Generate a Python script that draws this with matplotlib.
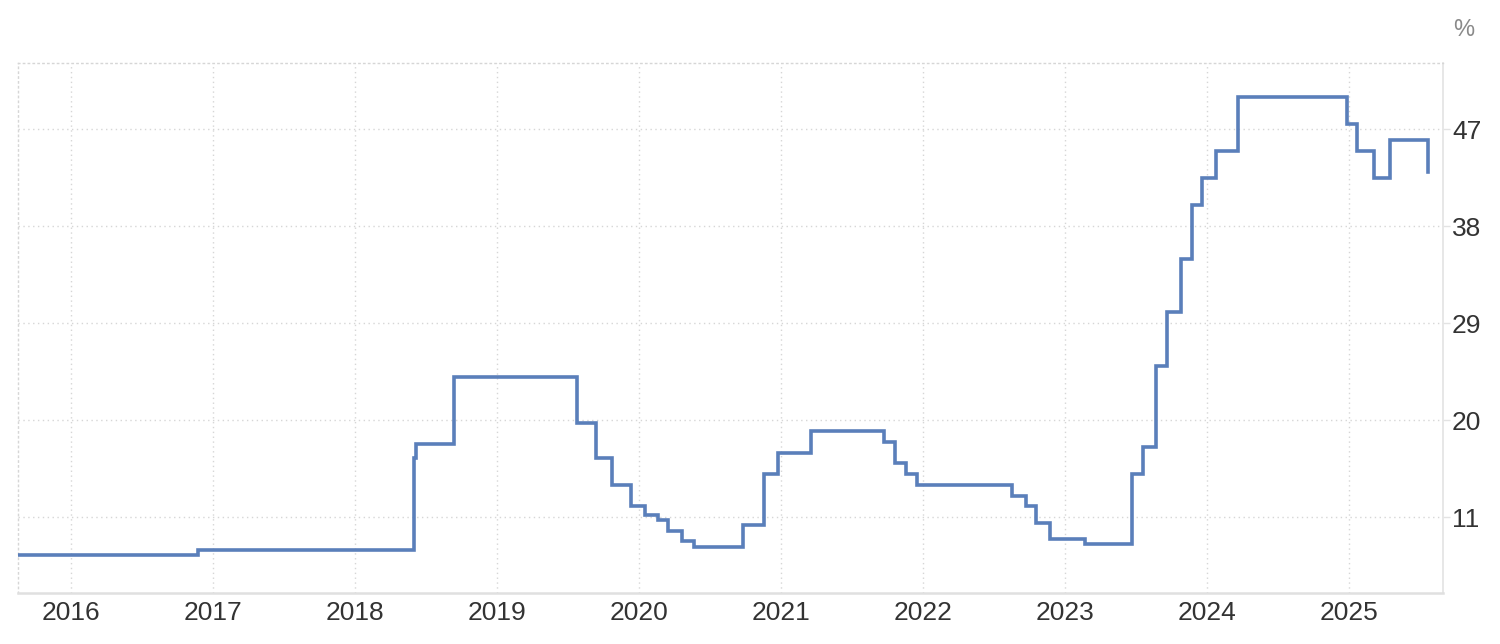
import numpy as np
import pandas as pd
import matplotlib
matplotlib.use("Agg")
import matplotlib.pyplot as plt
import matplotlib.dates as mdates

plt.rcParams['font.family'] = ['Liberation Sans', 'DejaVu Sans']

# policy rate decisions (date the new rate took effect, rate in %)
dates = ["2015-08-18", "2016-11-24", "2018-06-01", "2018-06-07", "2018-09-13",
         "2019-07-25", "2019-09-12", "2019-10-24", "2019-12-12", "2020-01-16",
         "2020-02-19", "2020-03-17", "2020-04-22", "2020-05-21", "2020-09-24",
         "2020-11-19", "2020-12-24", "2021-03-18", "2021-09-23", "2021-10-21",
         "2021-11-18", "2021-12-16", "2022-08-18", "2022-09-22", "2022-10-20",
         "2022-11-24", "2023-02-23", "2023-06-22", "2023-07-20", "2023-08-24",
         "2023-09-21", "2023-10-26", "2023-11-23", "2023-12-21", "2024-01-25",
         "2024-03-21", "2024-12-26", "2025-01-23", "2025-03-06", "2025-04-17",
         "2025-07-24"]
rates = [7.5, 8.0, 16.5, 17.75, 24, 19.75, 16.5, 14, 12, 11.25,
         10.75, 9.75, 8.75, 8.25, 10.25, 15, 17, 19, 18, 16,
         15, 14, 13, 12, 10.5, 9, 8.5, 15, 17.5, 25,
         30, 35, 40, 42.5, 45, 50, 47.5, 45, 42.5, 46,
         43]

y_ticks = [11, 20, 29, 38, 47]
years = list(range(2016, 2026))

x = pd.to_datetime(dates)

fig = plt.figure(figsize=(15, 6.44), dpi=100)
ax = fig.add_axes([0.012, 0.0797, 0.950, 0.822])

ax.plot(x, rates, drawstyle='steps-post', color='#5a7fba', lw=2.6,
        solid_joinstyle='miter', zorder=3)

ax.set_xlim(pd.Timestamp("2015-08-18"), pd.Timestamp("2025-08-31"))
ax.set_ylim(4.0, 53.12)

ax.set_xticks([pd.Timestamp(f"{y}-01-01") for y in years])
ax.xaxis.set_major_formatter(mdates.DateFormatter('%Y'))
ax.set_yticks(y_ticks)

ax.yaxis.tick_right()
ax.tick_params(axis='y', length=5, width=1, color='#e3e3e3', pad=1.5,
               labelsize=19, labelcolor='#333333')
ax.tick_params(axis='x', length=0, pad=6, labelsize=19, labelcolor='#333333')

grid_style = dict(color='#d6d6d6', linestyle=(0, (1, 2.5)), linewidth=1)
ax.grid(True, **grid_style)

for side in ['top', 'left']:
    ax.spines[side].set_color('#d6d6d6')
    ax.spines[side].set_linestyle((0, (1, 2.5)))
    ax.spines[side].set_linewidth(1)
ax.spines['right'].set_color('#e3e3e3')
ax.spines['right'].set_linewidth(1.2)
ax.spines['bottom'].set_color('#e0e0e0')
ax.spines['bottom'].set_linewidth(1.8)

fig.text(0.9755, 0.953, '%', ha='center', va='center', fontsize=17,
         color='#8a8a8a')

fig.savefig('out.png', dpi=100, facecolor='white')
